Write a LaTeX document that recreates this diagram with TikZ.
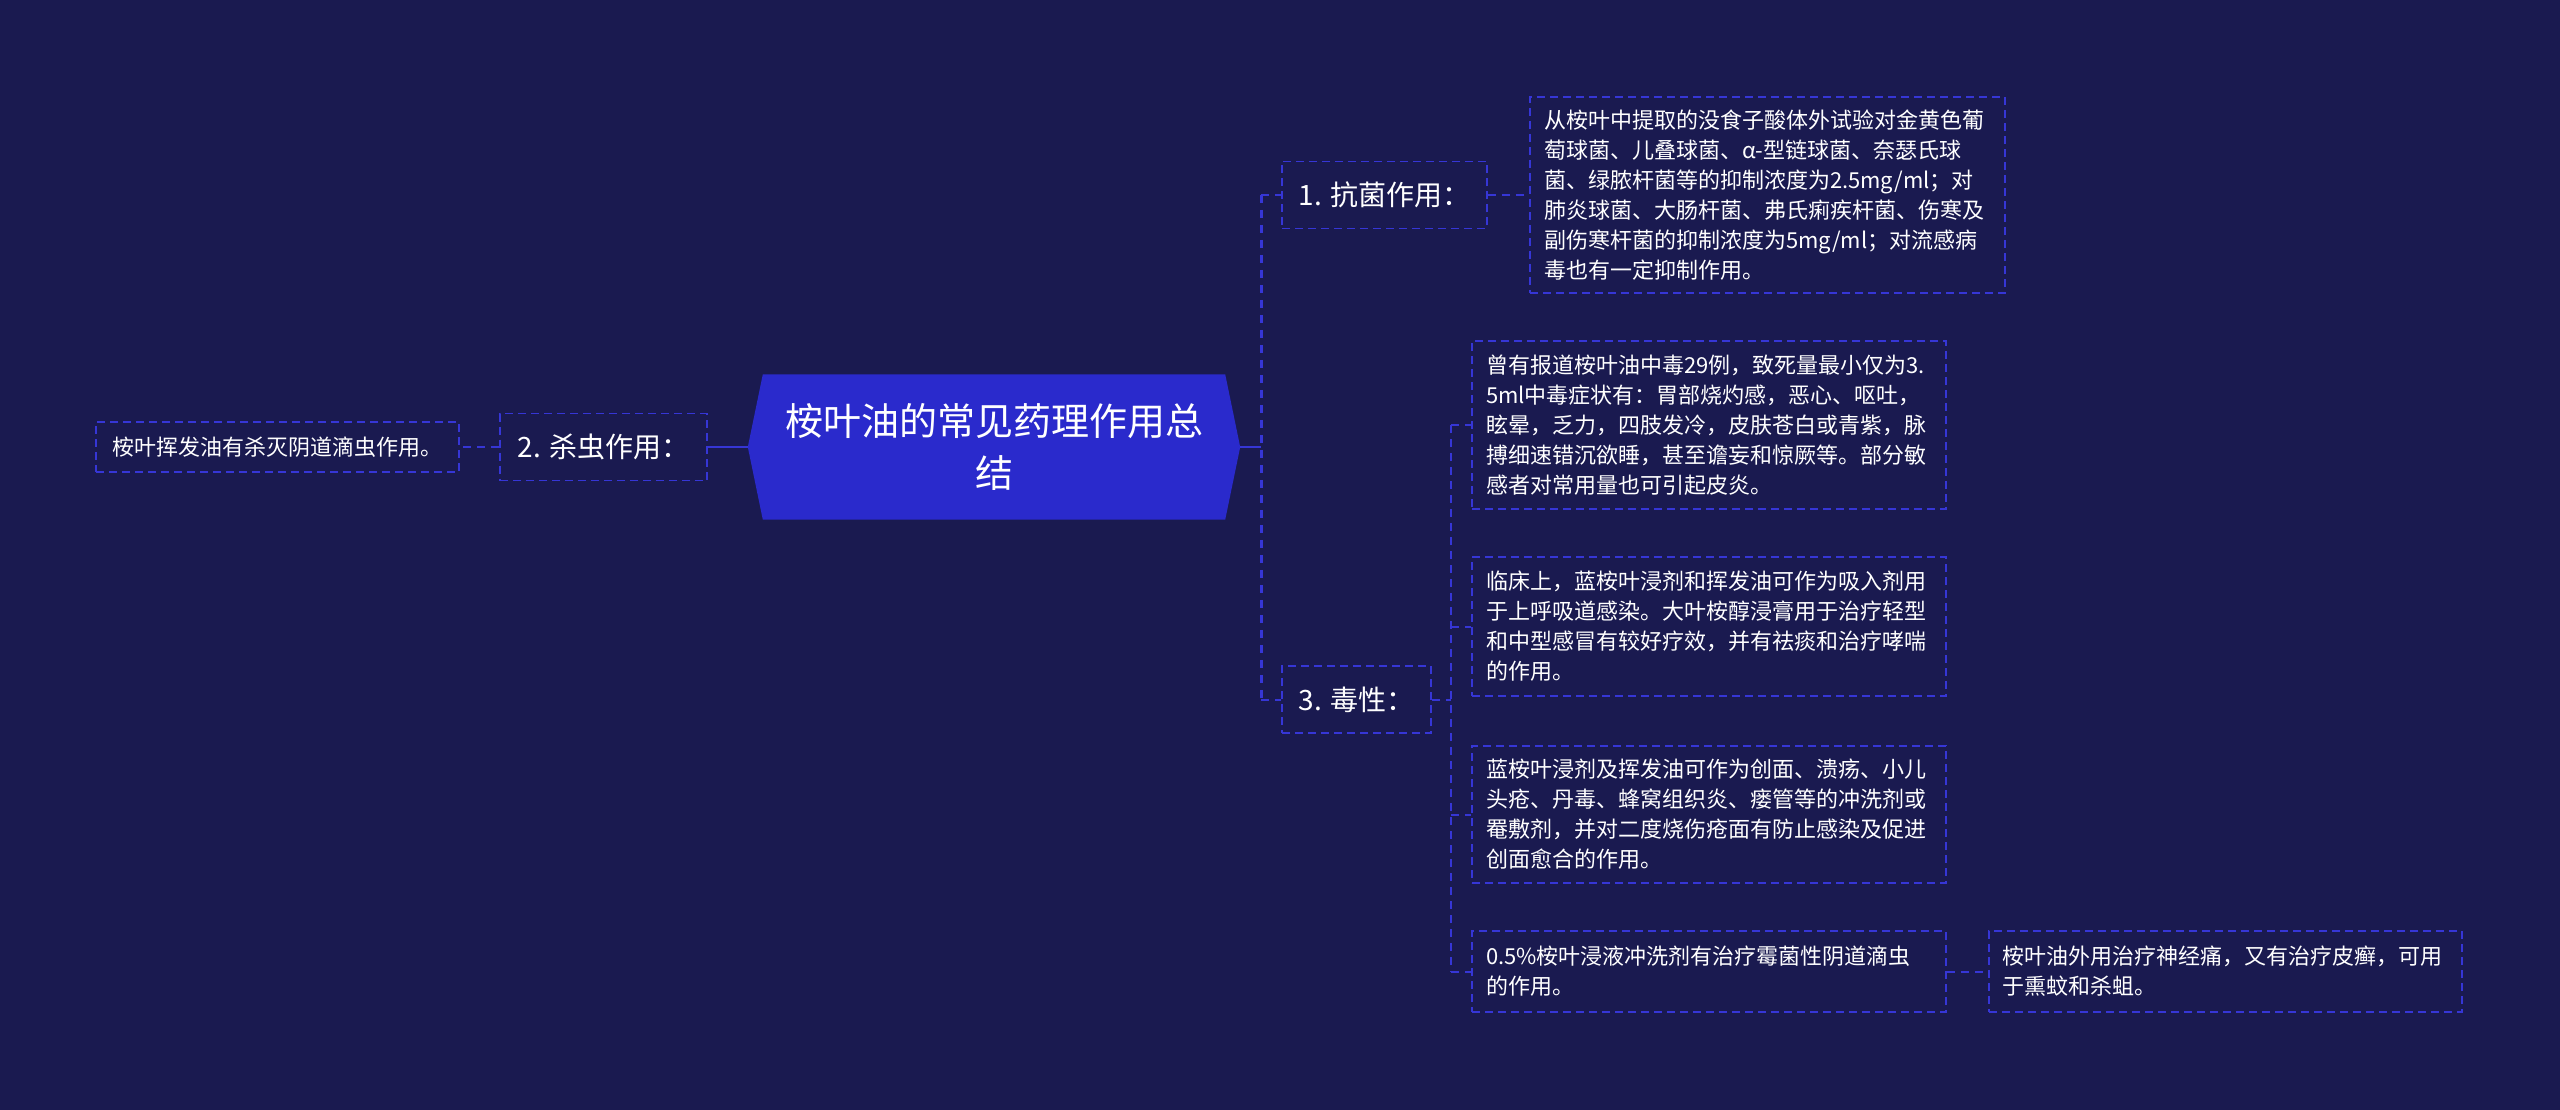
\documentclass[tikz,border=0pt]{standalone}
\usepackage{fontspec}
\setmainfont{Noto Sans CJK SC}
\usetikzlibrary{backgrounds}
\definecolor{bgcol}{RGB}{26,26,80}
\definecolor{centcol}{RGB}{42,42,204}
\definecolor{lncol}{RGB}{54,54,214}
\begin{document}
\begin{tikzpicture}[x=1pt,y=-1pt,
  boxbase/.style={draw=lncol, line width=1.6pt, dash pattern=on 8pt off 5pt, text=white, inner sep=0pt},
  leafbox/.style={boxbase, font=\fontsize{22}{30}\selectfont, align=left, text width=446pt, minimum width=474pt},
  keybox/.style={boxbase, font=\fontsize{28}{34}\selectfont, align=center, minimum height=67pt},
  conn/.style={draw=lncol, line width=2pt, dash pattern=on 8pt off 6pt},
  trunk/.style={draw=lncol, line width=3pt, dash pattern=on 8pt off 7pt},
  solidln/.style={draw=lncol, line width=2.5pt}
]
\path[use as bounding box] (0,0) rectangle (2560,1110);
\begin{scope}[on background layer]
\fill[bgcol] (0,0) rectangle (2560,1110);
\end{scope}

% central node
\node[font=\fontsize{38}{52}\selectfont, text=white, align=center, minimum width=492pt, minimum height=145pt, inner sep=0pt] (c) at (994,447) {桉叶油的常见药理作用总\\结};
\begin{scope}[on background layer]
\fill[centcol] ([xshift=15pt]c.north west) -- ([xshift=-15pt]c.north east) -- (c.east) -- ([xshift=-15pt]c.south east) -- ([xshift=15pt]c.south west) -- (c.west) -- cycle;
\end{scope}

% left branch
\node[keybox, minimum width=207pt] (k2) at (603.5,447) {2. 杀虫作用：};
\node[boxbase, font=\fontsize{22}{30}\selectfont, minimum width=363pt, minimum height=50pt] (l2) at (277.5,447) {桉叶挥发油有杀灭阴道滴虫作用。};

% right branches
\node[keybox, minimum width=205pt] (k1) at (1384.5,195) {1. 抗菌作用：};
\node[keybox, minimum width=149pt] (k3) at (1356.5,699.5) {3. 毒性：};

\node[leafbox, minimum width=475pt, minimum height=196pt, text width=447pt] (l1) at (1767.5,195) {从桉叶中提取的没食子酸体外试验对金黄色葡\\萄球菌、儿叠球菌、α-型链球菌、奈瑟氏球\\菌、绿脓杆菌等的抑制浓度为2.5mg/ml；对\\肺炎球菌、大肠杆菌、弗氏痢疾杆菌、伤寒及\\副伤寒杆菌的抑制浓度为5mg/ml；对流感病\\毒也有一定抑制作用。};

\node[leafbox, minimum height=168pt] (a) at (1709,425) {曾有报道桉叶油中毒29例，致死量最小仅为3.\\5ml中毒症状有：胃部烧灼感，恶心、呕吐，\\眩晕，乏力，四肢发冷，皮肤苍白或青紫，脉\\搏细速错沉欲睡，甚至谵妄和惊厥等。部分敏\\感者对常用量也可引起皮炎。};
\node[leafbox, minimum height=139pt] (b) at (1709,626.5) {临床上，蓝桉叶浸剂和挥发油可作为吸入剂用\\于上呼吸道感染。大叶桉醇浸膏用于治疗轻型\\和中型感冒有较好疗效，并有祛痰和治疗哮喘\\的作用。};
\node[leafbox, minimum height=137pt] (d) at (1709,814.5) {蓝桉叶浸剂及挥发油可作为创面、溃疡、小儿\\头疮、丹毒、蜂窝组织炎、瘘管等的冲洗剂或\\罨敷剂，并对二度烧伤疮面有防止感染及促进\\创面愈合的作用。};
\node[leafbox, minimum height=81pt] (e) at (1709,971.5) {0.5\%桉叶浸液冲洗剂有治疗霉菌性阴道滴虫\\的作用。};
\node[leafbox, minimum width=473pt, minimum height=81pt] (f) at (2225.5,971.5) {桉叶油外用治疗神经痛，又有治疗皮癣，可用\\于熏蚊和杀蛆。};

% junctions
\coordinate (jr) at (1261,447);
\coordinate (j3) at (1451,699.5);

% connectors
\draw[solidln] (c.east) -- (jr);
\draw[trunk] (k1.west -| jr) -- (k3.west -| jr);
\draw[conn] (k1.west -| jr) -- (k1.west);
\draw[conn] (k3.west -| jr) -- (k3.west);
\draw[conn] (k1.east) -- (l1.west);

\draw[conn] (k3.east) -- (j3);
\draw[conn] (a.west -| j3) -- (e.west -| j3);
\draw[conn] (a.west -| j3) -- (a.west);
\draw[conn] (b.west -| j3) -- (b.west);
\draw[conn] (d.west -| j3) -- (d.west);
\draw[conn] (e.west -| j3) -- (e.west);
\draw[conn] (e.east) -- (f.west);

\draw[solidln] (c.west) -- (k2.east);
\draw[conn] (k2.west) -- (l2.east);
\end{tikzpicture}
\end{document}
